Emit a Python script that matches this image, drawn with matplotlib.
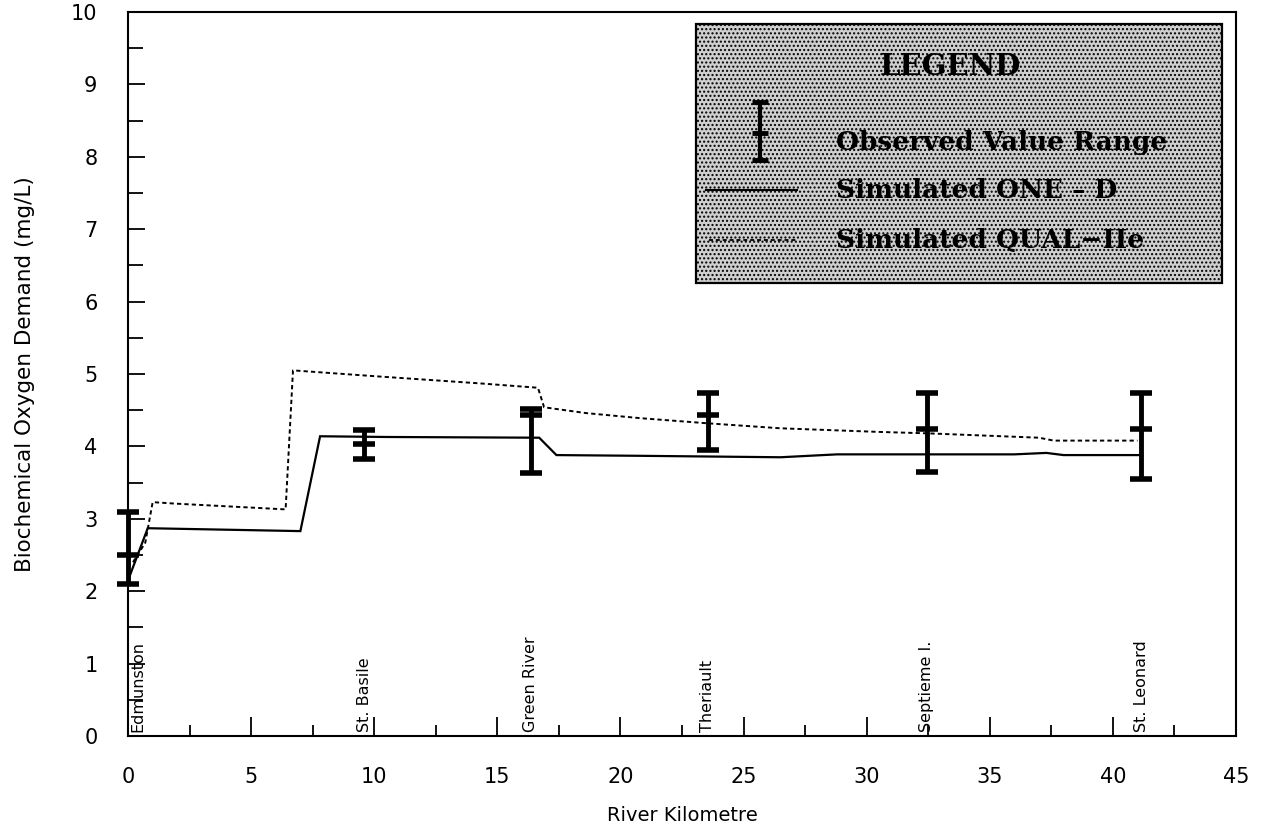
import matplotlib
matplotlib.use("Agg")
import matplotlib.pyplot as plt
from matplotlib.patches import Rectangle
from matplotlib.ticker import MultipleLocator

# Observed BOD ranges at sampling stations
stations = ["Edmunston", "St. Basile", "Green River", "Theriault", "Septieme I.", "St. Leonard"]
station_km = [0.0, 9.6, 16.35, 23.55, 32.45, 41.15]
obs_low = [2.10, 3.83, 3.63, 3.95, 3.65, 3.55]
obs_mid = [2.50, 4.03, 4.43, 4.43, 4.24, 4.24]
obs_high = [3.10, 4.22, 4.52, 4.74, 4.74, 4.74]

# Simulated ONE-D profile
oned_km = [0.0, 0.8, 7.0, 7.8, 10.5, 16.7, 17.4, 20.8, 26.5, 28.8, 36.0, 37.3, 38.0, 41.1]
oned_bod = [2.15, 2.87, 2.83, 4.14, 4.13, 4.12, 3.88, 3.87, 3.85, 3.89, 3.89, 3.91, 3.88, 3.88]

# Simulated QUAL-IIe profile
qual_km = [0.2, 0.7, 1.0, 1.9, 6.4, 6.7, 10.0, 14.3, 16.65, 16.9, 18.6, 20.8, 23.5, 26.5, 30.5, 32.5, 37.0, 37.6, 41.0]
qual_bod = [2.40, 2.67, 3.23, 3.21, 3.13, 5.05, 4.97, 4.87, 4.81, 4.54, 4.46, 4.39, 4.32, 4.25, 4.20, 4.18, 4.12, 4.08, 4.08]

legend_labels = ["Observed Value Range", "Simulated ONE \u2013 D", "Simulated QUAL\u2212IIe"]

fig = plt.figure(figsize=(12.64, 8.31), dpi=100)
ax = fig.add_axes([0.1013, 0.1143, 0.8765, 0.8713])

ax.plot(oned_km, oned_bod, color="black", lw=1.6, solid_joinstyle="miter")
ax.plot(qual_km, qual_bod, color="black", lw=1.4, ls=(0, (2.2, 1.6)))

for x, lo, mid, hi in zip(station_km, obs_low, obs_mid, obs_high):
    ax.plot([x, x], [lo, hi], color="black", lw=3.5, solid_capstyle="butt", clip_on=False, zorder=4)
    ax.plot([x, x, x], [lo, mid, hi], ls="none", marker="_", ms=16, mew=4,
            color="black", clip_on=False, zorder=4)

for name, x in zip(stations, station_km):
    xt = x + 0.4 if x == 0 else x
    ax.text(xt, 0.05, name, rotation=90, ha="center", va="bottom",
            fontsize=11.5, family="DejaVu Sans")

ax.set_xlim(0, 45)
ax.set_ylim(0, 10)
ax.xaxis.set_major_locator(MultipleLocator(5))
ax.xaxis.set_minor_locator(MultipleLocator(2.5))
ax.yaxis.set_major_locator(MultipleLocator(1))
ax.yaxis.set_minor_locator(MultipleLocator(0.5))
ax.tick_params(which="major", direction="in", length=14, width=1.3, labelsize=15, pad=22)
ax.tick_params(which="minor", direction="in", length=8, width=1.3)
ax.tick_params(axis="y", which="major", length=12, pad=22)
ax.tick_params(axis="y", which="minor", length=11)
for s in ax.spines.values():
    s.set_linewidth(1.5)

ax.set_xlabel("River Kilometre", fontsize=14, labelpad=14)
ax.set_ylabel("Biochemical Oxygen Demand (mg/L)", fontsize=15.5, labelpad=26)

# Legend panel with stippled background
box = Rectangle((0.513, 0.626), 0.474, 0.357, transform=ax.transAxes,
                facecolor="#cfcfcf", edgecolor="black", lw=1.6,
                hatch="....", zorder=3)
ax.add_patch(box)
ax.text(0.742, 0.924, "LEGEND", transform=ax.transAxes, ha="center", va="center",
        fontsize=21, family="DejaVu Serif", fontweight="bold", zorder=5)

# Legend symbol: range bar
lx = 0.570
ax.plot([lx, lx], [0.795, 0.876], transform=ax.transAxes, color="black", lw=3,
        solid_capstyle="butt", zorder=5)
ax.plot([lx, lx, lx], [0.795, 0.833, 0.876], transform=ax.transAxes, ls="none",
        marker="_", ms=11, mew=3.5, color="black", zorder=5)
ax.plot([0.522, 0.604], [0.754, 0.754], transform=ax.transAxes, color="black", lw=1.5, zorder=5)
ax.plot([0.524, 0.604], [0.685, 0.685], transform=ax.transAxes, color="black", lw=1.3,
        ls=(0, (2.2, 1.6)), zorder=5)

for label, yy in zip(legend_labels, [0.820, 0.754, 0.685]):
    ax.text(0.639, yy, label, transform=ax.transAxes, ha="left", va="center",
            fontsize=19, family="DejaVu Serif", fontweight="bold", zorder=5)

fig.savefig("out.png", dpi=100)
